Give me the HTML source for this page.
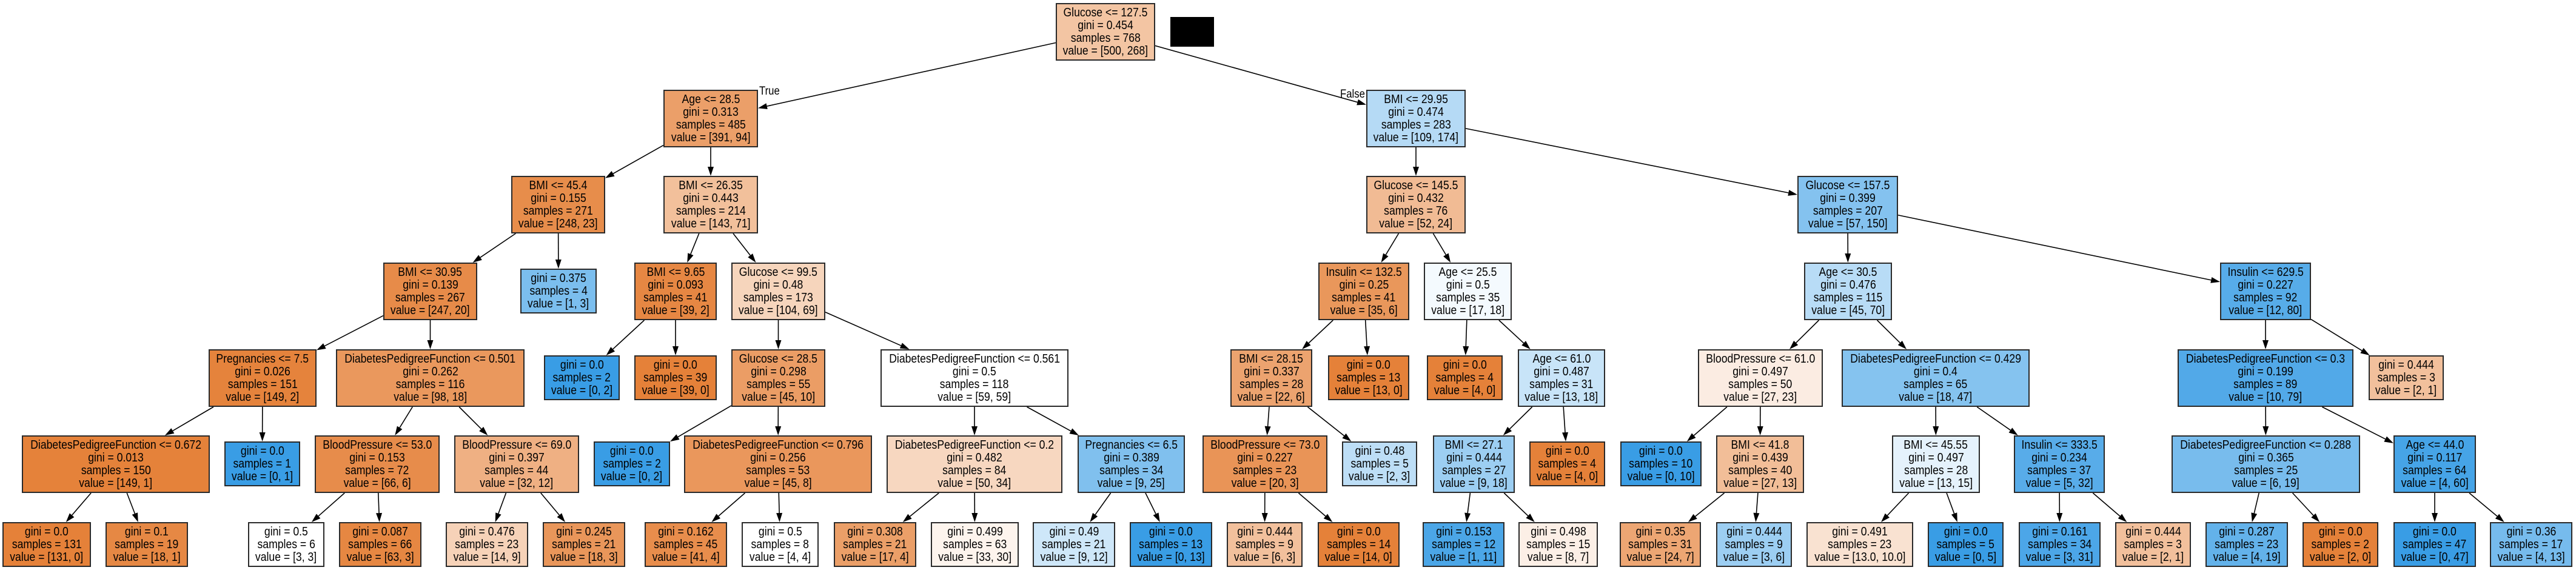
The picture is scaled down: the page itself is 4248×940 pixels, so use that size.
<!DOCTYPE html>
<html><head><meta charset="utf-8">
<style>
html,body{margin:0;padding:0;background:#fff;}
body{width:4248px;height:940px;position:relative;overflow:hidden;font-family:"Liberation Sans",Arial,sans-serif;}
.n{position:absolute;box-sizing:border-box;border:2px solid #2a2a2a;display:flex;flex-direction:column;justify-content:center;align-items:center;font-size:20px;line-height:21px;color:#000;white-space:nowrap;background:#fff;z-index:2}
.n div{transform:scaleX(0.88)}
.s{height:95px}.f{height:74px}
.lb{position:absolute;font-size:19px;color:#000;z-index:3;transform:scaleX(0.88);transform-origin:left}
svg{position:absolute;left:0;top:0;z-index:1}
</style></head><body>
<svg id="e" width="4248" height="940"></svg>
<div style="position:absolute;left:1930px;top:28px;width:72px;height:49px;background:#000"></div>
<div class="lb" style="left:1252px;top:140px">True</div>
<div class="lb" style="left:2210px;top:145px">False</div>

<div id="root">
<div class="n s" style="left:1741px;top:5px;width:164px"><div>Glucose &lt;= 127.5</div><div>gini = 0.454</div><div>samples = 768</div><div>value = [500, 268]</div></div>
<div class="n s" style="left:1094px;top:148px;width:156px"><div>Age &lt;= 28.5</div><div>gini = 0.313</div><div>samples = 485</div><div>value = [391, 94]</div></div>
<div class="n s" style="left:2253px;top:148px;width:164px"><div>BMI &lt;= 29.95</div><div>gini = 0.474</div><div>samples = 283</div><div>value = [109, 174]</div></div>
<div class="n s" style="left:843px;top:290px;width:155px"><div>BMI &lt;= 45.4</div><div>gini = 0.155</div><div>samples = 271</div><div>value = [248, 23]</div></div>
<div class="n s" style="left:1094px;top:290px;width:156px"><div>BMI &lt;= 26.35</div><div>gini = 0.443</div><div>samples = 214</div><div>value = [143, 71]</div></div>
<div class="n s" style="left:2253px;top:290px;width:164px"><div>Glucose &lt;= 145.5</div><div>gini = 0.432</div><div>samples = 76</div><div>value = [52, 24]</div></div>
<div class="n s" style="left:2964px;top:290px;width:166px"><div>Glucose &lt;= 157.5</div><div>gini = 0.399</div><div>samples = 207</div><div>value = [57, 150]</div></div>
<div class="n s" style="left:632px;top:433px;width:155px"><div>BMI &lt;= 30.95</div><div>gini = 0.139</div><div>samples = 267</div><div>value = [247, 20]</div></div>
<div class="n f" style="left:858px;top:443px;width:126px"><div>gini = 0.375</div><div>samples = 4</div><div>value = [1, 3]</div></div>
<div class="n s" style="left:1046px;top:433px;width:136px"><div>BMI &lt;= 9.65</div><div>gini = 0.093</div><div>samples = 41</div><div>value = [39, 2]</div></div>
<div class="n s" style="left:1206px;top:433px;width:155px"><div>Glucose &lt;= 99.5</div><div>gini = 0.48</div><div>samples = 173</div><div>value = [104, 69]</div></div>
<div class="n s" style="left:2174px;top:433px;width:150px"><div>Insulin &lt;= 132.5</div><div>gini = 0.25</div><div>samples = 41</div><div>value = [35, 6]</div></div>
<div class="n s" style="left:2348px;top:433px;width:145px"><div>Age &lt;= 25.5</div><div>gini = 0.5</div><div>samples = 35</div><div>value = [17, 18]</div></div>
<div class="n s" style="left:2975px;top:433px;width:145px"><div>Age &lt;= 30.5</div><div>gini = 0.476</div><div>samples = 115</div><div>value = [45, 70]</div></div>
<div class="n s" style="left:3661px;top:433px;width:150px"><div>Insulin &lt;= 629.5</div><div>gini = 0.227</div><div>samples = 92</div><div>value = [12, 80]</div></div>
<div class="n s" style="left:344px;top:576px;width:178px"><div>Pregnancies &lt;= 7.5</div><div>gini = 0.026</div><div>samples = 151</div><div>value = [149, 2]</div></div>
<div class="n s" style="left:554px;top:576px;width:311px"><div>DiabetesPedigreeFunction &lt;= 0.501</div><div>gini = 0.262</div><div>samples = 116</div><div>value = [98, 18]</div></div>
<div class="n f" style="left:897px;top:586px;width:125px"><div>gini = 0.0</div><div>samples = 2</div><div>value = [0, 2]</div></div>
<div class="n f" style="left:1046px;top:586px;width:136px"><div>gini = 0.0</div><div>samples = 39</div><div>value = [39, 0]</div></div>
<div class="n s" style="left:1206px;top:576px;width:155px"><div>Glucose &lt;= 28.5</div><div>gini = 0.298</div><div>samples = 55</div><div>value = [45, 10]</div></div>
<div class="n s" style="left:1452px;top:576px;width:310px"><div>DiabetesPedigreeFunction &lt;= 0.561</div><div>gini = 0.5</div><div>samples = 118</div><div>value = [59, 59]</div></div>
<div class="n s" style="left:2029px;top:576px;width:135px"><div>BMI &lt;= 28.15</div><div>gini = 0.337</div><div>samples = 28</div><div>value = [22, 6]</div></div>
<div class="n f" style="left:2190px;top:586px;width:134px"><div>gini = 0.0</div><div>samples = 13</div><div>value = [13, 0]</div></div>
<div class="n f" style="left:2353px;top:586px;width:125px"><div>gini = 0.0</div><div>samples = 4</div><div>value = [4, 0]</div></div>
<div class="n s" style="left:2503px;top:576px;width:144px"><div>Age &lt;= 61.0</div><div>gini = 0.487</div><div>samples = 31</div><div>value = [13, 18]</div></div>
<div class="n s" style="left:2800px;top:576px;width:206px"><div>BloodPressure &lt;= 61.0</div><div>gini = 0.497</div><div>samples = 50</div><div>value = [27, 23]</div></div>
<div class="n s" style="left:3037px;top:576px;width:310px"><div>DiabetesPedigreeFunction &lt;= 0.429</div><div>gini = 0.4</div><div>samples = 65</div><div>value = [18, 47]</div></div>
<div class="n s" style="left:3591px;top:576px;width:290px"><div>DiabetesPedigreeFunction &lt;= 0.3</div><div>gini = 0.199</div><div>samples = 89</div><div>value = [10, 79]</div></div>
<div class="n f" style="left:3906px;top:586px;width:124px"><div>gini = 0.444</div><div>samples = 3</div><div>value = [2, 1]</div></div>
<div class="n s" style="left:36px;top:718px;width:310px"><div>DiabetesPedigreeFunction &lt;= 0.672</div><div>gini = 0.013</div><div>samples = 150</div><div>value = [149, 1]</div></div>
<div class="n f" style="left:370px;top:728px;width:125px"><div>gini = 0.0</div><div>samples = 1</div><div>value = [0, 1]</div></div>
<div class="n s" style="left:519px;top:718px;width:206px"><div>BloodPressure &lt;= 53.0</div><div>gini = 0.153</div><div>samples = 72</div><div>value = [66, 6]</div></div>
<div class="n s" style="left:749px;top:718px;width:206px"><div>BloodPressure &lt;= 69.0</div><div>gini = 0.397</div><div>samples = 44</div><div>value = [32, 12]</div></div>
<div class="n f" style="left:979px;top:728px;width:126px"><div>gini = 0.0</div><div>samples = 2</div><div>value = [0, 2]</div></div>
<div class="n s" style="left:1128px;top:718px;width:310px"><div>DiabetesPedigreeFunction &lt;= 0.796</div><div>gini = 0.256</div><div>samples = 53</div><div>value = [45, 8]</div></div>
<div class="n s" style="left:1462px;top:718px;width:290px"><div>DiabetesPedigreeFunction &lt;= 0.2</div><div>gini = 0.482</div><div>samples = 84</div><div>value = [50, 34]</div></div>
<div class="n s" style="left:1777px;top:718px;width:177px"><div>Pregnancies &lt;= 6.5</div><div>gini = 0.389</div><div>samples = 34</div><div>value = [9, 25]</div></div>
<div class="n s" style="left:1983px;top:718px;width:206px"><div>BloodPressure &lt;= 73.0</div><div>gini = 0.227</div><div>samples = 23</div><div>value = [20, 3]</div></div>
<div class="n f" style="left:2213px;top:728px;width:124px"><div>gini = 0.48</div><div>samples = 5</div><div>value = [2, 3]</div></div>
<div class="n s" style="left:2363px;top:718px;width:135px"><div>BMI &lt;= 27.1</div><div>gini = 0.444</div><div>samples = 27</div><div>value = [9, 18]</div></div>
<div class="n f" style="left:2522px;top:728px;width:125px"><div>gini = 0.0</div><div>samples = 4</div><div>value = [4, 0]</div></div>
<div class="n f" style="left:2672px;top:728px;width:134px"><div>gini = 0.0</div><div>samples = 10</div><div>value = [0, 10]</div></div>
<div class="n s" style="left:2830px;top:718px;width:145px"><div>BMI &lt;= 41.8</div><div>gini = 0.439</div><div>samples = 40</div><div>value = [27, 13]</div></div>
<div class="n s" style="left:3120px;top:718px;width:145px"><div>BMI &lt;= 45.55</div><div>gini = 0.497</div><div>samples = 28</div><div>value = [13, 15]</div></div>
<div class="n s" style="left:3321px;top:718px;width:150px"><div>Insulin &lt;= 333.5</div><div>gini = 0.234</div><div>samples = 37</div><div>value = [5, 32]</div></div>
<div class="n s" style="left:3581px;top:718px;width:311px"><div>DiabetesPedigreeFunction &lt;= 0.288</div><div>gini = 0.365</div><div>samples = 25</div><div>value = [6, 19]</div></div>
<div class="n s" style="left:3947px;top:718px;width:136px"><div>Age &lt;= 44.0</div><div>gini = 0.117</div><div>samples = 64</div><div>value = [4, 60]</div></div>
<div class="n f" style="left:4px;top:861px;width:146px"><div>gini = 0.0</div><div>samples = 131</div><div>value = [131, 0]</div></div>
<div class="n f" style="left:174px;top:861px;width:136px"><div>gini = 0.1</div><div>samples = 19</div><div>value = [18, 1]</div></div>
<div class="n f" style="left:409px;top:861px;width:126px"><div>gini = 0.5</div><div>samples = 6</div><div>value = [3, 3]</div></div>
<div class="n f" style="left:559px;top:861px;width:136px"><div>gini = 0.087</div><div>samples = 66</div><div>value = [63, 3]</div></div>
<div class="n f" style="left:735px;top:861px;width:136px"><div>gini = 0.476</div><div>samples = 23</div><div>value = [14, 9]</div></div>
<div class="n f" style="left:895px;top:861px;width:136px"><div>gini = 0.245</div><div>samples = 21</div><div>value = [18, 3]</div></div>
<div class="n f" style="left:1063px;top:861px;width:136px"><div>gini = 0.162</div><div>samples = 45</div><div>value = [41, 4]</div></div>
<div class="n f" style="left:1223px;top:861px;width:127px"><div>gini = 0.5</div><div>samples = 8</div><div>value = [4, 4]</div></div>
<div class="n f" style="left:1375px;top:861px;width:136px"><div>gini = 0.308</div><div>samples = 21</div><div>value = [17, 4]</div></div>
<div class="n f" style="left:1535px;top:861px;width:145px"><div>gini = 0.499</div><div>samples = 63</div><div>value = [33, 30]</div></div>
<div class="n f" style="left:1703px;top:861px;width:136px"><div>gini = 0.49</div><div>samples = 21</div><div>value = [9, 12]</div></div>
<div class="n f" style="left:1863px;top:861px;width:136px"><div>gini = 0.0</div><div>samples = 13</div><div>value = [0, 13]</div></div>
<div class="n f" style="left:2023px;top:861px;width:125px"><div>gini = 0.444</div><div>samples = 9</div><div>value = [6, 3]</div></div>
<div class="n f" style="left:2173px;top:861px;width:135px"><div>gini = 0.0</div><div>samples = 14</div><div>value = [14, 0]</div></div>
<div class="n f" style="left:2346px;top:861px;width:135px"><div>gini = 0.153</div><div>samples = 12</div><div>value = [1, 11]</div></div>
<div class="n f" style="left:2504px;top:861px;width:131px"><div>gini = 0.498</div><div>samples = 15</div><div>value = [8, 7]</div></div>
<div class="n f" style="left:2671px;top:861px;width:134px"><div>gini = 0.35</div><div>samples = 31</div><div>value = [24, 7]</div></div>
<div class="n f" style="left:2830px;top:861px;width:125px"><div>gini = 0.444</div><div>samples = 9</div><div>value = [3, 6]</div></div>
<div class="n f" style="left:2979px;top:861px;width:176px"><div>gini = 0.491</div><div>samples = 23</div><div>value = [13.0, 10.0]</div></div>
<div class="n f" style="left:3179px;top:861px;width:125px"><div>gini = 0.0</div><div>samples = 5</div><div>value = [0, 5]</div></div>
<div class="n f" style="left:3329px;top:861px;width:135px"><div>gini = 0.161</div><div>samples = 34</div><div>value = [3, 31]</div></div>
<div class="n f" style="left:3488px;top:861px;width:125px"><div>gini = 0.444</div><div>samples = 3</div><div>value = [2, 1]</div></div>
<div class="n f" style="left:3637px;top:861px;width:136px"><div>gini = 0.287</div><div>samples = 23</div><div>value = [4, 19]</div></div>
<div class="n f" style="left:3797px;top:861px;width:125px"><div>gini = 0.0</div><div>samples = 2</div><div>value = [2, 0]</div></div>
<div class="n f" style="left:3947px;top:861px;width:136px"><div>gini = 0.0</div><div>samples = 47</div><div>value = [0, 47]</div></div>
<div class="n f" style="left:4106px;top:861px;width:136px"><div>gini = 0.36</div><div>samples = 17</div><div>value = [4, 13]</div></div>
</div>
<script>
(function(){
var P=[-1,0,0,1,1,2,2,3,3,4,4,5,5,6,6,7,7,9,9,10,10,11,11,12,12,13,13,14,14,15,15,16,16,19,19,20,20,21,21,24,24,25,25,26,26,27,27,29,29,31,31,32,32,34,34,35,35,36,36,37,37,39,39,42,42,43,43,44,44,45,45,46,46];
var nodes=document.querySelectorAll('#root .n');
var R=[];
nodes.forEach(function(n,i){
  var m=n.textContent.match(/value = \[([\d.]+), ([\d.]+)\]/);
  var a=parseFloat(m[1]),b=parseFloat(m[2]);
  var mx=Math.max(a,b),mn=Math.min(a,b);
  var al=mx>0?(mx-mn)/mx:0;
  var c=a>=b?[229,129,57]:[57,157,229];
  var col=c.map(function(v){return Math.round(al*v+(1-al)*255);});
  n.style.background='rgb('+col.join(',')+')';
  var x=parseFloat(n.style.left),y=parseFloat(n.style.top);
  R.push({x:x,y:y,w:n.offsetWidth,h:n.offsetHeight});
});
var svg=document.getElementById('e');var s='';
function clip(r,dx,dy){var hw=r.w/2,hh=r.h/2;var tx=dx!==0?hw/Math.abs(dx):1e9;var ty=dy!==0?hh/Math.abs(dy):1e9;return Math.min(tx,ty);}
for(var i=1;i<R.length;i++){
  var p=R[P[i]],c=R[i];
  var px=p.x+p.w/2,py=p.y+p.h/2,cx=c.x+c.w/2,cy=c.y+c.h/2;
  var dx=cx-px,dy=cy-py;
  var t0=clip(p,dx,dy),t1=1-clip(c,dx,dy);
  var sx=px+dx*t0,sy=py+dy*t0,ex=px+dx*t1,ey=py+dy*t1;
  var L=Math.sqrt(dx*dx+dy*dy),ux=dx/L,uy=dy/L;
  var bx=ex-ux*15,by=ey-uy*15;
  s+='<line x1="'+sx+'" y1="'+sy+'" x2="'+bx+'" y2="'+by+'" stroke="#000" stroke-width="1.6"/>';
  s+='<polygon points="'+ex+','+ey+' '+(bx-uy*5)+','+(by+ux*5)+' '+(bx+uy*5)+','+(by-ux*5)+'" fill="#000"/>';
}
svg.innerHTML=s;
})();
</script>
</body></html>
